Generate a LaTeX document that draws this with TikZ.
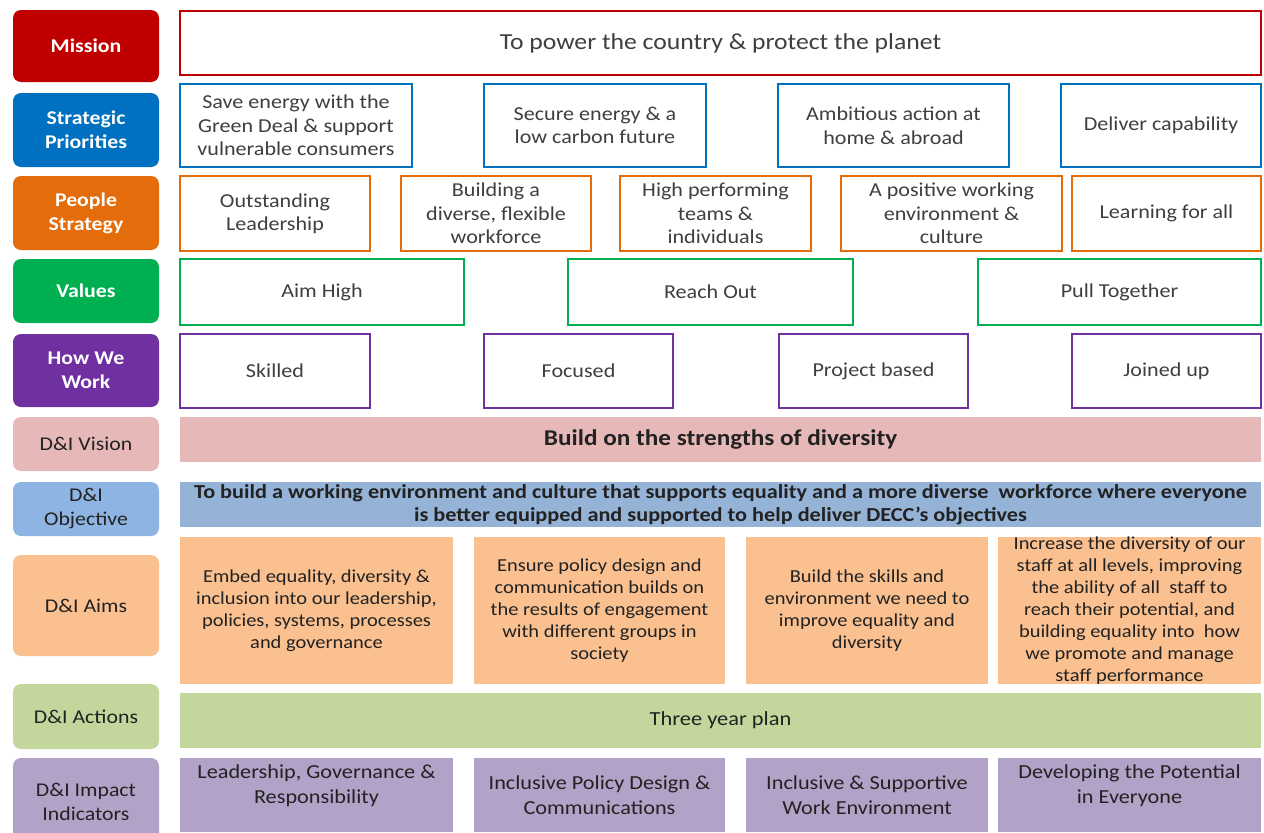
\documentclass[tikz,border=0pt]{standalone}
\usepackage{fontspec}
\setmainfont{Carlito}[FakeStretch=1.12]
\usepackage{xcolor}
\usepackage{tikz}
\definecolor{missionred}{HTML}{C00000}
\definecolor{stratblue}{HTML}{0070C0}
\definecolor{peopleorange}{HTML}{E46C0A}
\definecolor{valuesgreen}{HTML}{00B050}
\definecolor{howpurple}{HTML}{7030A0}
\definecolor{visionpink}{HTML}{E6B9B8}
\definecolor{objlabel}{HTML}{8DB4E2}
\definecolor{objband}{HTML}{95B3D7}
\definecolor{aimspeach}{HTML}{FAC090}
\definecolor{actgreen}{HTML}{C3D69B}
\definecolor{implilac}{HTML}{B3A2C7}
\definecolor{boxtext}{HTML}{3F3F3F}
\definecolor{ditext}{HTML}{222222}
\newlength\px
\setlength\px{0.75pt}

\begin{document}
\begin{tikzpicture}[x=0.75pt, y=-0.75pt,
    rowlabel/.style={rounded corners=8\px, minimum width=146\px, inner sep=0pt,
      align=center, text=white, font=\fontsize{14.6}{18}\selectfont\bfseries},
    dilabel/.style={rowlabel, text=ditext, font=\fontsize{14.6}{18}\selectfont},
    outbox/.style={draw=#1, line width=2.6\px, fill=white, inner sep=0pt,
      align=center, text=boxtext, font=\fontsize{14.8}{17.6}\selectfont},
    band/.style={fill=#1, inner sep=0pt, align=center, text=ditext,
      font=\fontsize{15}{18}\selectfont},
    aimbox/.style={band=aimspeach, minimum height=147\px,
      font=\fontsize{13.7}{16.5}\selectfont},
    impbox/.style={band=implilac, minimum height=74\px,
      font=\fontsize{14.9}{18.75}\selectfont}]
  \useasboundingbox (0,0) rectangle (1264,832);
  \clip (0,0) rectangle (1264,832);

  % row labels
  \node[rowlabel, fill=missionred, minimum height=72\px] (mission) at (86,46) {Mission};
  \node[rowlabel, fill=stratblue, minimum height=74\px] (strategic) at (86,130) {Strategic\\Priorities};
  \node[rowlabel, fill=peopleorange, minimum height=74\px] (people) at (86,213) {People\\Strategy};
  \node[rowlabel, fill=valuesgreen, minimum height=64\px] (values) at (86,291) {Values};
  \node[rowlabel, fill=howpurple, minimum height=73\px] (howwork) at (86,370.5) {How We\\Work};
  \node[dilabel, fill=visionpink, minimum height=54\px] (vision) at (86,444) {D\&I Vision};
  \node[dilabel, fill=objlabel, minimum height=54\px] (objective) at (86,509) {D\&I\\Objective};
  \node[dilabel, fill=aimspeach, minimum height=101\px] (aims) at (86,605.5) {D\&I Aims};
  \node[dilabel, fill=actgreen, minimum height=65\px] (actions) at (86,716.5) {D\&I Actions};
  \node[dilabel, fill=implilac, minimum height=87\px] (impact) at (86,801.5) {D\&I Impact\\Indicators};

  % mission and priorities
  \node[outbox=missionred, minimum width=1081\px, minimum height=64\px,
        font=\fontsize{17.2}{20}\selectfont] (power) at (720.5,43)
        {To power the country \& protect the planet};
  \node[outbox=stratblue, minimum width=232\px, minimum height=83\px] (greendeal) at (296,125.5)
        {Save energy with the\\Green Deal \& support\\vulnerable consumers};
  \node[outbox=stratblue, minimum width=222\px, minimum height=83\px] (secure) at (595,125.5)
        {Secure energy \& a\\low carbon future};
  \node[outbox=stratblue, minimum width=231\px, minimum height=83\px] (ambitious) at (893.5,125.5)
        {Ambitious action at\\home \& abroad};
  \node[outbox=stratblue, minimum width=200\px, minimum height=83\px] (capability) at (1161,125.5)
        {Deliver capability};

  % people strategy
  \node[outbox=peopleorange, minimum width=190\px, minimum height=75\px] (leadership) at (275,213.5)
        {Outstanding\\Leadership};
  \node[outbox=peopleorange, minimum width=190\px, minimum height=75\px] (workforce) at (496,213.5)
        {Building a\\diverse, flexible\\workforce};
  \node[outbox=peopleorange, minimum width=191\px, minimum height=75\px] (teams) at (715.5,213.5)
        {High performing\\teams \&\\individuals};
  \node[outbox=peopleorange, minimum width=221\px, minimum height=75\px] (environment) at (951.5,213.5)
        {A positive working\\environment \&\\culture};
  \node[outbox=peopleorange, minimum width=189\px, minimum height=75\px] (learning) at (1166.5,213.5)
        {Learning for all};

  % values
  \node[outbox=valuesgreen, minimum width=284\px, minimum height=66\px] (aimhigh) at (322,292) {Aim High};
  \node[outbox=valuesgreen, minimum width=285\px, minimum height=66\px] (reachout) at (710.5,292) {Reach Out};
  \node[outbox=valuesgreen, minimum width=283\px, minimum height=66\px] (pulltogether) at (1119.5,292) {Pull Together};

  % how we work
  \node[outbox=howpurple, minimum width=190\px, minimum height=74\px] (skilled) at (275,371) {Skilled};
  \node[outbox=howpurple, minimum width=189\px, minimum height=74\px] (focused) at (578.5,371) {Focused};
  \node[outbox=howpurple, minimum width=189\px, minimum height=74\px] (project) at (873.5,371) {Project based};
  \node[outbox=howpurple, minimum width=189\px, minimum height=74\px] (joined) at (1166.5,371) {Joined up};

  % D&I bands
  \node[band=visionpink, minimum width=1081\px, minimum height=45\px,
        font=\fontsize{16.9}{18}\selectfont\bfseries] (strengths) at (720.5,439.5)
        {Build on the strengths of diversity};
  \node[band=objband, minimum width=1081\px, minimum height=45\px,
        font=\fontsize{14.9}{17.25}\selectfont\bfseries] (equality) at (720.5,504.5)
        {To build a working environment and culture that supports equality and a more diverse\ \ workforce where everyone\\is better equipped and supported to help deliver DECC’s objectives};

  % aims
  \node[aimbox, minimum width=273\px] (embed) at (316.5,610.5)
        {Embed equality, diversity \&\\inclusion into our leadership,\\policies, systems, processes\\and governance};
  \node[aimbox, minimum width=251\px] (ensure) at (599.5,610.5)
        {Ensure policy design and\\communication builds on\\the results of engagement\\with different groups in\\society};
  \node[aimbox, minimum width=242\px] (skills) at (867,610.5)
        {Build the skills and\\environment we need to\\improve equality and\\diversity};
  \node[aimbox, minimum width=263\px] (increase) at (1129.5,610.5)
        {Increase the diversity of our\\staff at all levels, improving\\the ability of all\ \ staff to\\reach their potential, and\\building equality into\ \ how\\we promote and manage\\staff performance};

  % actions
  \node[band=actgreen, minimum width=1081\px, minimum height=55\px] (plan) at (720.5,720.5)
        {Three year plan};

  % impact indicators
  \node[impbox, minimum width=273\px] (governance) at (316.5,795)
        {\parbox[c][74\px][t]{273\px}{\centering\vspace*{5pt}Leadership, Governance \&\\Responsibility}};
  \node[impbox, minimum width=251\px] (policy) at (599.5,795)
        {Inclusive Policy Design \&\\Communications};
  \node[impbox, minimum width=242\px] (supportive) at (867,795)
        {Inclusive \& Supportive\\Work Environment};
  \node[impbox, minimum width=263\px] (potential) at (1129.5,795)
        {\parbox[c][74\px][t]{263\px}{\centering\vspace*{5pt}Developing the Potential\\in Everyone}};
\end{tikzpicture}
\end{document}
